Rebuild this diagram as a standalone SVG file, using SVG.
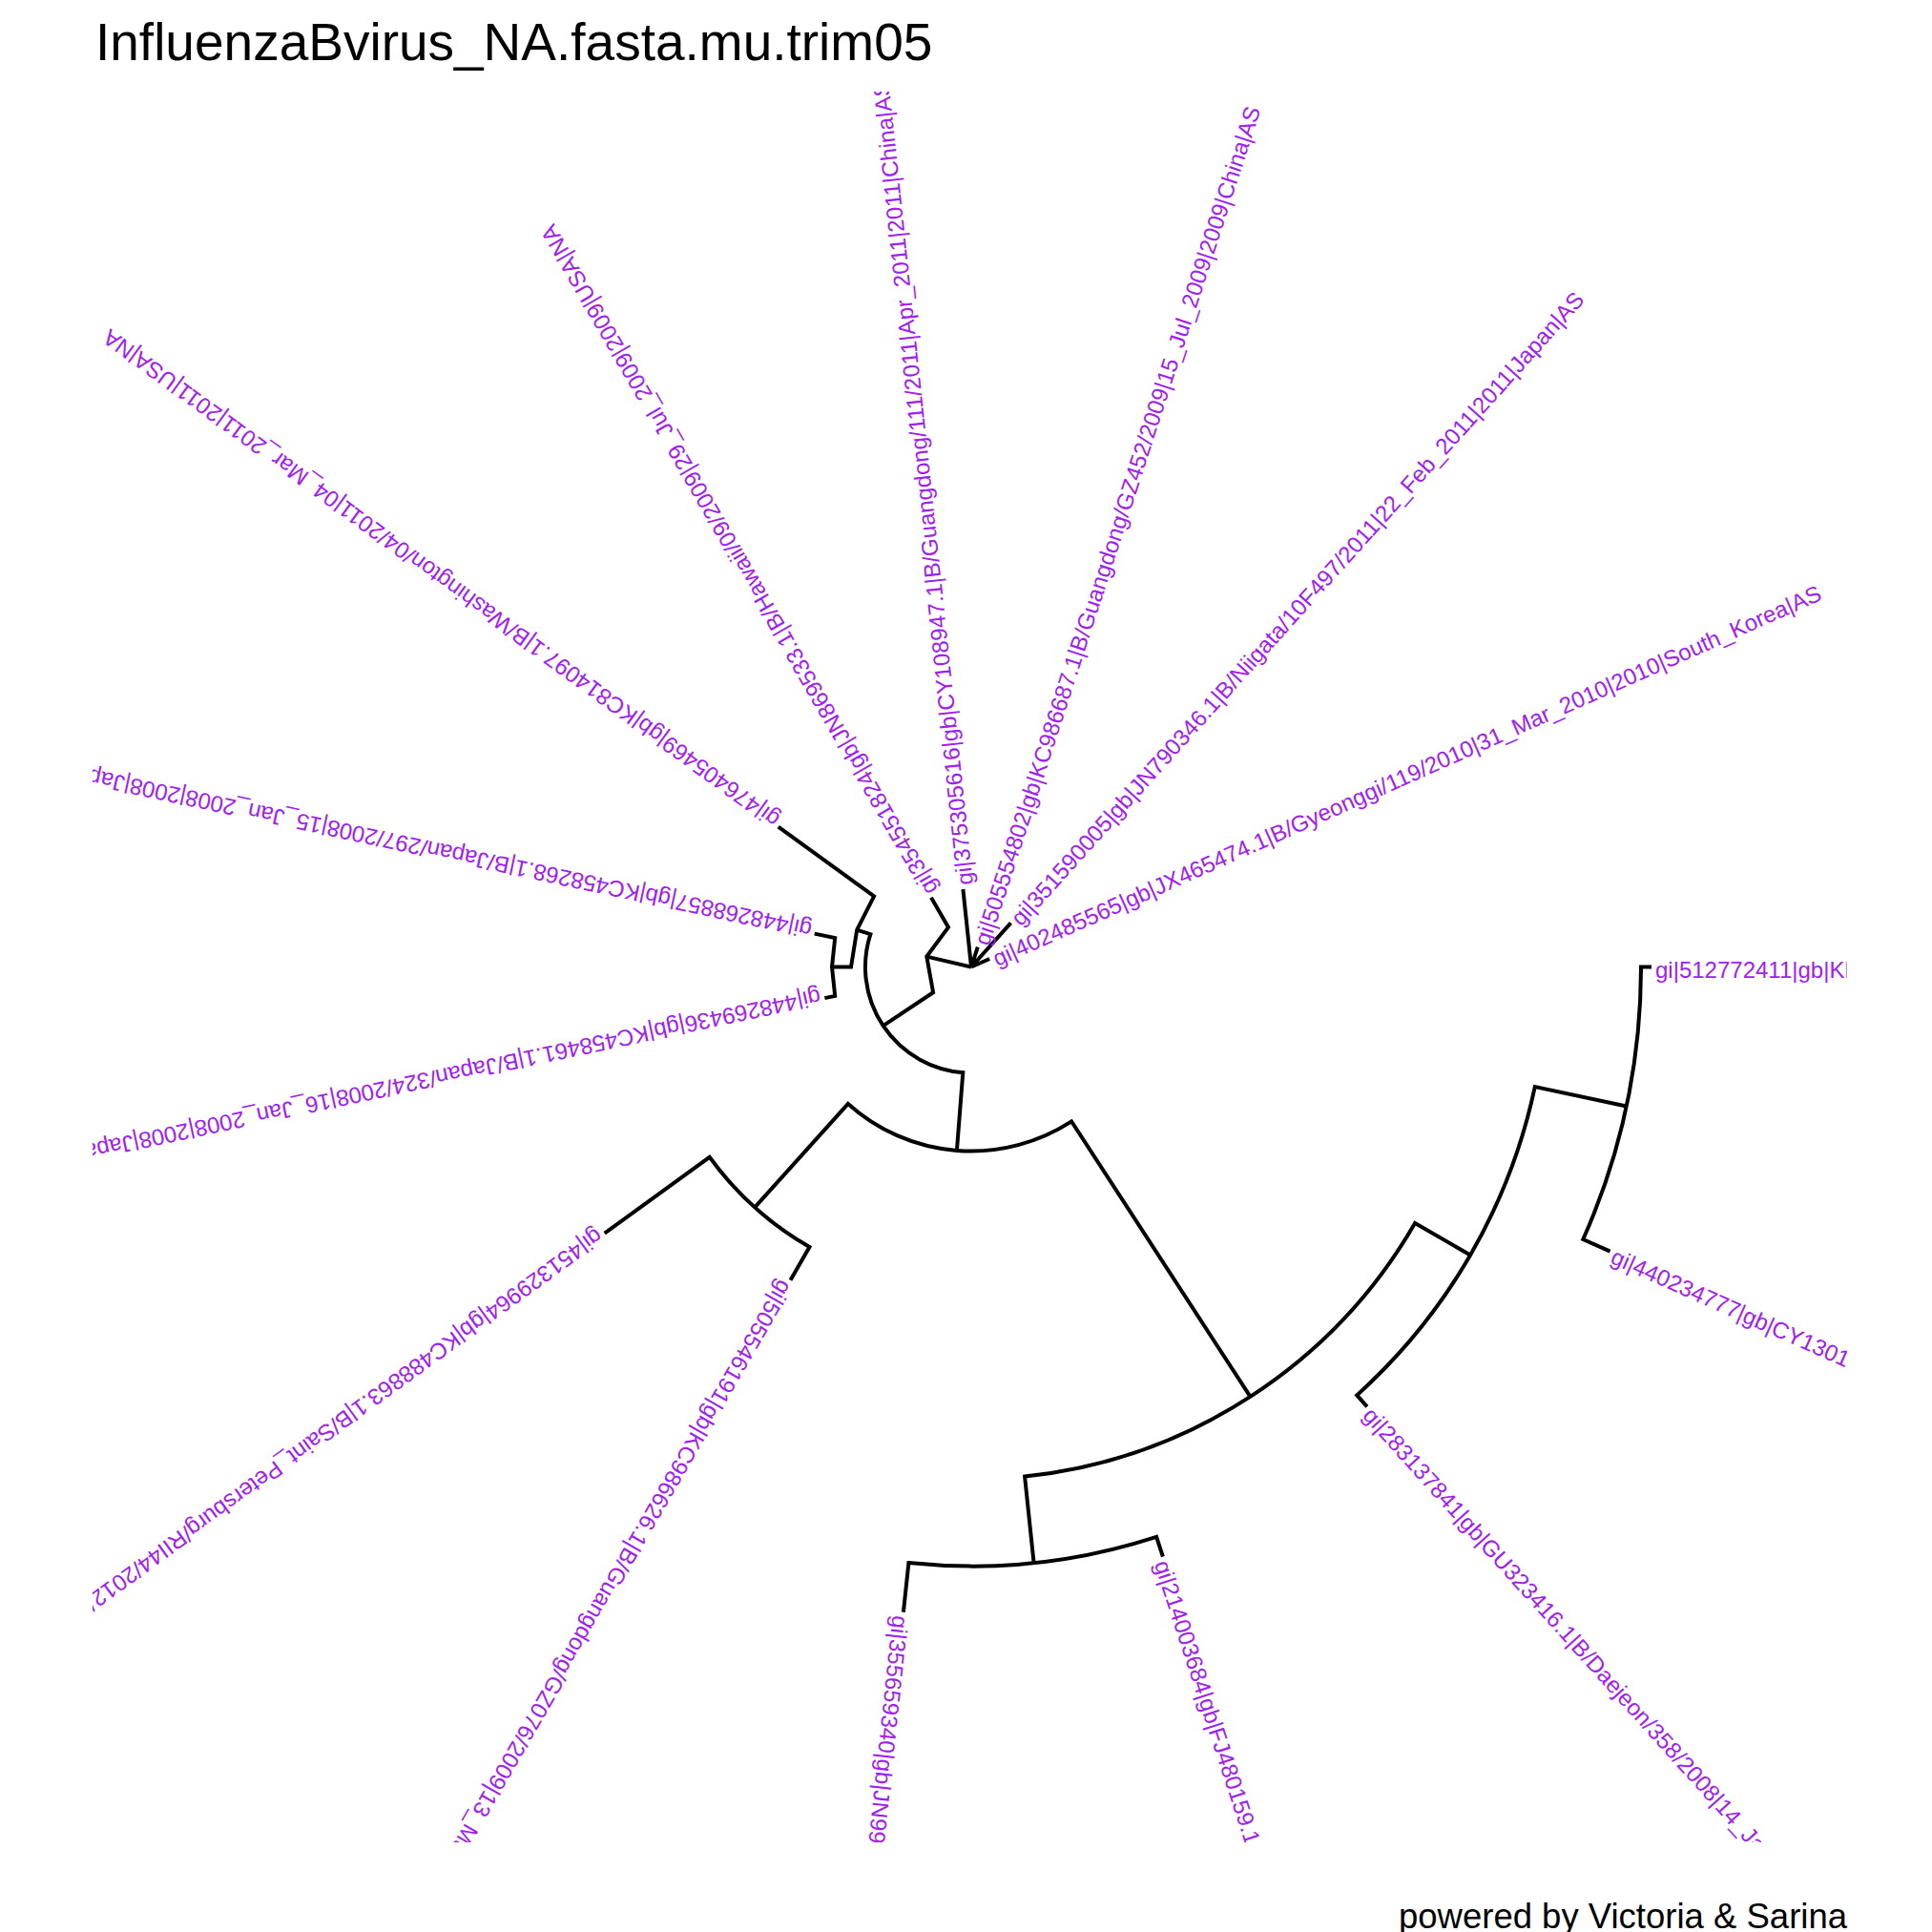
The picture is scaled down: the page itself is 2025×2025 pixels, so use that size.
<svg xmlns="http://www.w3.org/2000/svg" width="2025" height="2025" viewBox="0 0 2025 2025">
<style>
.br{fill:none;stroke:#000;stroke-width:4;stroke-linejoin:miter;stroke-linecap:butt}
.lb{font-family:"Liberation Sans",Arial,sans-serif;font-size:24px;fill:#A020F0}
.ttl{font-family:"Liberation Sans",Arial,sans-serif;font-size:55px;fill:#000}
.ft{font-family:"Liberation Sans",Arial,sans-serif;font-size:36.5px;fill:#000}
</style>
<defs>
<clipPath id="plot"><rect x="97" y="96" width="1839" height="1835"/></clipPath>
</defs>
<rect width="2025" height="2025" fill="#fff"/>
<text class="ttl" x="100" y="63">InfluenzaBvirus_NA.fasta.mu.trim05</text>
<g id="connectors">
<path class="br" d="M1731,1013.5 L1720,1013.5 A702,702 0 0 1 1659.3,1299.0 L1687.6,1311.6"/>
<path class="br" d="M1704.7,1159.5 L1608.8,1139.1 A604,604 0 0 1 1422.2,1462.4 L1432.9,1474.3"/>
<path class="br" d="M1218.9,1631.7 L1212.1,1610.8 A628,628 0 0 1 952.4,1638.1 L946.9,1689.8"/>
<path class="br" d="M1541.1,1315.5 L1483.1,1282.0 A537,537 0 0 1 1074.1,1547.6 L1083.6,1638.1"/>
<path class="br" d="M828.5,1341.7 L848.5,1307.1 A339,339 0 0 1 743.7,1212.8 L633.7,1292.7"/>
<path class="br" d="M1310.5,1463.9 L1123.1,1175.4 A193,193 0 0 1 888.9,1156.9 L791.2,1265.4"/>
<path class="br" d="M864.4,1046.1 L875.2,1043.9 L872,1013.5 L875.2,983.1 L853.7,978.6"/>
<path class="br" d="M872,1013.5 L892,1013.5 L898.2,974.6 L916.1,939.4 L815.8,866.6"/>
<path class="br" d="M1002.9,1205.9 L1009.3,1124.2 A111,111 0 0 1 912.4,979.2 L898.2,974.6"/>
<path class="br" d="M925.7,1075.2 L978.1,1040.2 L971.3,1002.6 L994,971.9 L976,940.8"/>
<path class="br" d="M1018,1013.5 L971.3,1002.6 M1018,1013.5 L1009.4,932.0 M1018,1013.5 L1024.8,992.6 M1018,1013.5 L1059.5,967.4 M1018,1013.5 L1037.2,1005.0"/>
</g>
<g id="labels" clip-path="url(#plot)">
<g id="tip15"><text class="lb" transform="translate(1735,1013.5) rotate(0)" y="11">gi|512772411|gb|KF</text></g>
<g id="tip14"><text class="lb" transform="translate(1691.3,1313.3) rotate(24)" y="11">gi|440234777|gb|CY1301</text></g>
<g id="tip13"><text class="lb" transform="translate(1435.5,1477.2) rotate(48)" y="11">gi|283137841|gb|GU323416.1|B/Daejeon/358/2008|14_Ja</text></g>
<g id="tip12"><text class="lb" transform="translate(1220.1,1635.5) rotate(72)" y="11">gi|214003684|gb|FJ480159.1|</text></g>
<g id="tip11"><text class="lb" transform="translate(946.5,1693.8) rotate(96)" y="11">gi|355659340|gb|JN99</text></g>
<g id="tip10"><text class="lb" transform="translate(826.5,1345.2) rotate(120)" y="11">gi|505546191|gb|KC986626.1|B/Guangdong/GZ076/2009|13_Ma</text></g>
<g id="tip9"><text class="lb" transform="translate(630.5,1295.1) rotate(144)" y="11">gi|451329964|gb|KC488863.1|B/Saint_Petersburg/RII44/2012/</text></g>
<g id="tip8"><text class="lb" transform="translate(860.5,1047.0) rotate(168)" y="11">gi|448269436|gb|KC458461.1|B/Japan/324/2008|16_Jan_2008|2008|Japan</text></g>
<g id="tip7"><text class="lb" transform="translate(849.8,977.7) rotate(192)" y="11">gi|448268857|gb|KC458268.1|B/Japan/297/2008|15_Jan_2008|2008|Japa</text></g>
<g id="tip6"><text class="lb" transform="translate(812.5,864.2) rotate(216)" y="11">gi|476405469|gb|KC814097.1|B/Washington/04/2011|04_Mar_2011|2011|USA|NA</text></g>
<g id="tip5"><text class="lb" transform="translate(974,937.3) rotate(240)" y="11">gi|354551824|gb|JN869533.1|B/Hawaii/09/2009|29_Jul_2009|2009|USA|NA</text></g>
<g id="tip1"><text class="lb" transform="translate(1009.0,928.0) rotate(264)" y="11">gi|375305616|gb|CY108947.1|B/Guangdong/111/2011|Apr_2011|2011|China|AS</text></g>
<g id="tip2"><text class="lb" transform="translate(1026.0,988.8) rotate(288)" y="11">gi|505554802|gb|KC986687.1|B/Guangdong/GZ452/2009|15_Jul_2009|2009|China|AS</text></g>
<g id="tip3"><text class="lb" transform="translate(1062.2,964.5) rotate(312)" y="11">gi|351590005|gb|JN790346.1|B/Niigata/10F497/2011|22_Feb_2011|2011|Japan|AS</text></g>
<g id="tip4"><text class="lb" transform="translate(1040.8,1003.3) rotate(336)" y="11">gi|402485565|gb|JX465474.1|B/Gyeonggi/119/2010|31_Mar_2010|2010|South_Korea|AS</text></g>
</g>
<text class="ft" x="1936" y="2021" text-anchor="end">powered by Victoria &amp; Sarina</text>
</svg>
